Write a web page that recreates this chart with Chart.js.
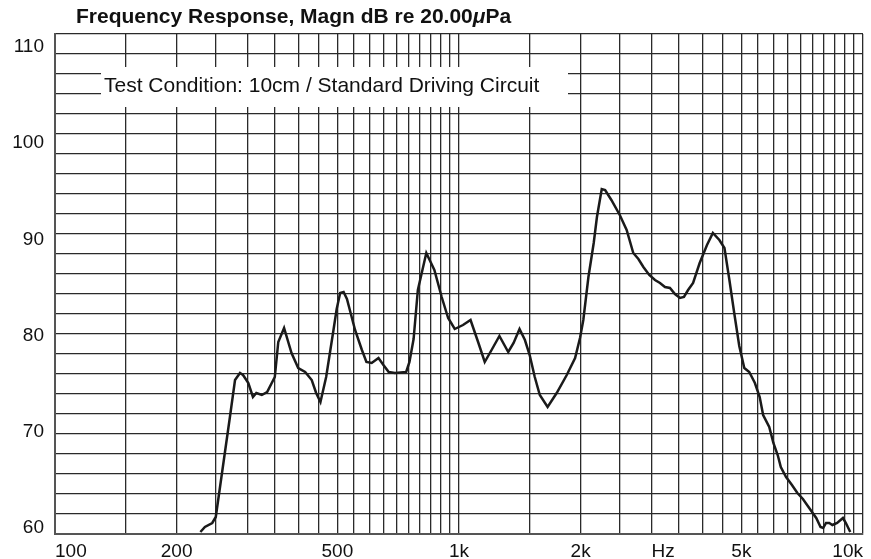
<!DOCTYPE html>
<html>
<head>
<meta charset="utf-8">
<script src="https://cdn.jsdelivr.net/npm/chart.js@4/dist/chart.umd.min.js"></script>
<style>
  html, body { margin: 0; padding: 0; background: #fff; }
  #wrap { width: 871px; height: 559px; }
</style>
</head>
<body>
<div id="wrap"><canvas id="fr"></canvas></div>
<script>
// measured curve (Hz, dB)
const freqs = [229, 235, 245, 250, 271, 279, 287, 292, 301, 309, 315, 325, 335, 350, 357, 369, 385, 400, 416, 432,
  443, 454, 469, 489, 498, 508, 518, 528, 540, 553, 575, 590, 608, 632, 650, 670, 694, 740, 754, 772,
  791, 830, 869, 906, 940, 976, 1023, 1068, 1115, 1158, 1204, 1259, 1324, 1365, 1412, 1456, 1496, 1540, 1585, 1657,
  1745, 1848, 1938, 1993, 2031, 2091, 2155, 2195, 2256, 2300, 2383, 2500, 2600, 2700, 2780, 2860, 2958, 3056, 3144, 3235,
  3328, 3424, 3523, 3604, 3690, 3797, 3942, 4110, 4250, 4410, 4540, 4670, 4800, 4940, 5084, 5230, 5400, 5550, 5660, 5860,
  6000, 6150, 6260, 6450, 6670, 6880, 7100, 7360, 7660, 7850, 7970, 8100, 8250, 8400, 8630, 8920, 9070, 9300];
const spl = [60.2, 60.7, 61.1, 61.7, 71.7, 75.4, 76.1, 75.9, 75.1, 73.7, 74.1, 73.9, 74.2, 75.7, 79.2, 80.6, 78.1, 76.6, 76.2, 75.4,
  74.1, 73.2, 75.7, 80.4, 82.5, 84.1, 84.2, 83.5, 82.0, 80.4, 78.4, 77.2, 77.1, 77.6, 76.9, 76.2, 76.1, 76.2, 77.2, 79.5,
  84.4, 88.1, 86.4, 83.7, 81.6, 80.5, 80.9, 81.4, 79.2, 77.2, 78.4, 79.8, 78.2, 79.1, 80.5, 79.4, 77.9, 75.7, 73.9, 72.7,
  74.1, 75.9, 77.6, 79.6, 81.4, 85.7, 89.1, 91.7, 94.5, 94.4, 93.4, 91.9, 90.4, 88.1, 87.5, 86.7, 85.9, 85.4, 85.1, 84.7,
  84.6, 84.0, 83.6, 83.7, 84.4, 85.1, 87.1, 88.9, 90.1, 89.4, 88.6, 85.4, 82.1, 78.8, 76.6, 76.2, 75.1, 73.7, 71.9, 70.7,
  69.1, 67.9, 66.7, 65.7, 64.9, 64.1, 63.5, 62.6, 61.6, 60.7, 60.6, 61.1, 61.1, 60.9, 61.1, 61.6, 61.1, 60.2];

// x grid: every 50 Hz up to 1k, every 500 Hz up to 10k
const xGrid = [100, 150, 200, 250, 300, 350, 400, 450, 500, 550, 600, 650, 700, 750, 800, 850, 900, 950, 1000,
  1500, 2000, 2500, 3000, 3500, 4000, 4500, 5000, 5500, 6000, 6500, 7000, 7500, 8000, 8500, 9000, 9500, 10000];
const hzPos = 3200;
const xLabels = { 100: '100', 200: '200', 500: '500', 1000: '1k', 2000: '2k', 3200: 'Hz', 5000: '5k', 10000: '10k' };
// y grid every 2 dB, labels every 10
const yGrid = [60, 62, 64, 66, 68, 70, 72, 74, 76, 78, 80, 82, 84, 86, 88, 90, 92, 94, 96, 98, 100, 102, 104, 106, 108, 110];
const yLabels = [60, 70, 80, 90, 100, 110];

const titleText = 'Frequency Response, Magn dB re 20.00';
const condText = 'Test Condition: 10cm / Standard Driving Circuit';
const FONT = '"Liberation Sans", Arial, Helvetica, sans-serif';

const annotations = {
  id: 'annotations',
  beforeDatasetsDraw(chart) {
    const ctx = chart.ctx;
    ctx.save();
    ctx.fillStyle = '#fff';
    ctx.fillRect(101, 67, 467, 40);
    ctx.fillStyle = '#111';
    ctx.font = '21px ' + FONT;
    ctx.textBaseline = 'middle';
    ctx.fillText(condText, 104, 86);
    ctx.restore();
  },
  afterDraw(chart) {
    const ctx = chart.ctx;
    ctx.save();
    ctx.fillStyle = '#111';
    ctx.textBaseline = 'middle';
    ctx.font = 'bold 21px ' + FONT;
    let x = 76;
    ctx.fillText(titleText, x, 17);
    x += ctx.measureText(titleText).width;
    ctx.font = 'italic bold 21px ' + FONT;
    ctx.fillText('\u03bc', x, 17);
    x += ctx.measureText('\u03bc').width;
    ctx.font = 'bold 21px ' + FONT;
    ctx.fillText('Pa', x, 17);
    ctx.restore();
  }
};

new Chart(document.getElementById('fr'), {
  type: 'line',
  data: {
    datasets: [{
      data: freqs.map((f, i) => ({ x: f, y: spl[i] })),
      borderColor: '#1a1a1a',
      borderWidth: 2.5,
      pointRadius: 0,
      tension: 0,
      fill: false
    }]
  },
  options: {
    responsive: true,
    maintainAspectRatio: false,
    animation: false,
    layout: { padding: { top: 34, right: 8, left: 0, bottom: 0 } },
    plugins: {
      legend: { display: false },
      tooltip: { enabled: false }
    },
    scales: {
      x: {
        type: 'logarithmic',
        min: 100,
        max: 10000,
        afterBuildTicks: function(scale) {
          const vals = xGrid.concat([hzPos]).sort((a, b) => a - b);
          scale.ticks = vals.map(v => ({ value: v }));
        },
        afterFit: function(scale) { scale.height = 25; },
        border: { display: true, color: '#555', width: 2 },
        grid: {
          drawTicks: false,
          lineWidth: 1.3,
          color: function(c) { return c.tick && c.tick.value === hzPos ? 'rgba(0,0,0,0)' : '#2a2a2a'; }
        },
        ticks: {
          autoSkip: false,
          maxRotation: 0,
          align: 'inner',
          padding: 6,
          color: '#111',
          font: { family: FONT, size: 19 },
          callback: function(value) { return xLabels[value] || ''; }
        }
      },
      y: {
        min: 60,
        max: 110,
        weight: 0,
        afterBuildTicks: function(scale) {
          scale.ticks = yGrid.map(v => ({ value: v }));
        },
        afterFit: function(scale) { scale.width = 0; },
        border: { display: true, color: '#555', width: 2 },
        grid: { drawTicks: false, lineWidth: 1.3, color: '#2a2a2a' },
        ticks: { display: false }
      },
      // label axis: the printed labels sit on a slightly compressed scale
      yLab: {
        position: 'left',
        weight: 1,
        min: 59.38,
        max: 111.35,
        afterBuildTicks: function(scale) {
          scale.ticks = yLabels.map(v => ({ value: v }));
        },
        afterFit: function(scale) { scale.width = 55; },
        border: { display: false },
        grid: { display: false, drawTicks: false },
        ticks: {
          autoSkip: false,
          padding: 11,
          color: '#111',
          font: { family: FONT, size: 19 }
        }
      }
    }
  },
  plugins: [annotations]
});
</script>
</body>
</html>
